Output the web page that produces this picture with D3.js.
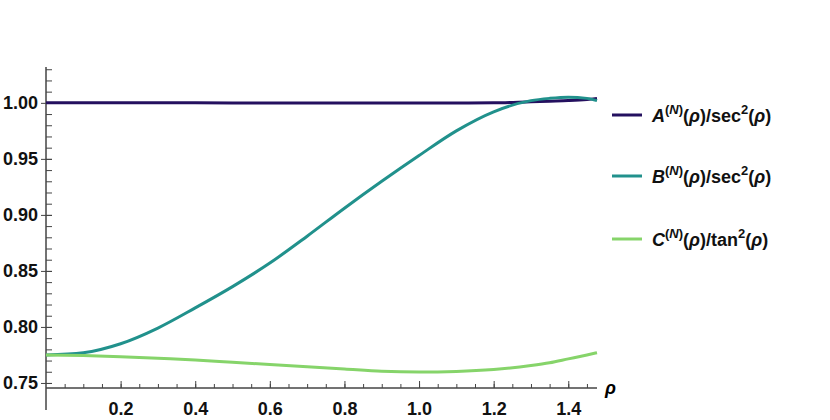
<!DOCTYPE html><html><head><script src="https://cdn.jsdelivr.net/npm/d3@7"></script>
<style>body{margin:0;background:#fff}text{font-family:"Liberation Sans",Arial,sans-serif;font-weight:bold}</style></head><body>
<svg id="c" width="830" height="420"></svg>
<script>
const rho=[0,0.1,0.2,0.3,0.4,0.5,0.6,0.7,0.8,0.9,1.0,1.1,1.2,1.3,1.35,1.4,1.45,1.477];
const A=[1.0,1.0,1.0,1.0,1.0,0.9999,0.9998,0.9998,0.9998,0.9998,0.9998,0.9999,1.0,1.001,1.0015,1.002,1.003,1.004];
const B=[0.775,0.777,0.785,0.799,0.817,0.836,0.857,0.881,0.906,0.930,0.953,0.975,0.992,1.002,1.004,1.005,1.004,1.002];
const C=[0.775,0.7745,0.7735,0.772,0.7705,0.7685,0.7665,0.7645,0.7625,0.7605,0.7598,0.7603,0.762,0.7655,0.768,0.7715,0.775,0.777];
const yTicks=[0.75,0.80,0.85,0.90,0.95,1.00];
const xTicks=[0.2,0.4,0.6,0.8,1.0,1.2,1.4];
const series=[{name:"A",den:"sec",v:A,c:"#24105f"},{name:"B",den:"sec",v:B,c:"#21918c"},{name:"C",den:"tan",v:C,c:"#86d46a"}];
const svg=d3.select("#c");
const x=d3.scaleLinear().domain([0,1.477]).range([46,597]);
const y=d3.scaleLinear().domain([0.7455,1.032]).range([388,67]);
const ya=svg.append("g").attr("transform","translate(46,0)").call(d3.axisLeft(y).tickValues(d3.range(0.75,1.031,0.01)).tickSize(6).tickFormat(d=>""));
const ya2=svg.append("g").attr("transform","translate(46,0)").call(d3.axisLeft(y).tickValues(yTicks).tickSize(11).tickFormat(d3.format(".2f")));
[ya,ya2].forEach(g=>{g.select(".domain").attr("d","M0,67V410").attr("stroke","#444");g.selectAll("line").attr("stroke","#444").attr("transform","translate(6,0)");});
ya.selectAll("line").attr("x2",-6);ya2.selectAll("line").attr("x2",-11);
ya2.selectAll("text").attr("x",-8).attr("font-size",18).attr("fill","#111");
const xa=svg.append("g").attr("transform","translate(0,388)").call(d3.axisTop(x).tickValues(d3.range(0.05,1.48,0.05)).tickSize(4).tickFormat(""));
const xa2=svg.append("g").attr("transform","translate(0,388)").call(d3.axisTop(x).tickValues(xTicks).tickSize(7).tickFormat(d3.format(".1f")));
[xa,xa2].forEach(g=>{g.select(".domain").attr("d","M46,0H597").attr("stroke","#444");g.selectAll("line").attr("stroke","#444");});
xa2.selectAll("text").attr("y",27).attr("font-size",18).attr("fill","#111");
svg.append("text").attr("x",605).attr("y",394).attr("font-size",18).attr("font-style","italic").text("ρ");
const line=v=>d3.line().curve(d3.curveMonotoneX).x((d,i)=>x(rho[i])).y(d=>y(d))(v);
series.forEach((s,i)=>{
 svg.append("path").attr("d",line(s.v)).attr("fill","none").attr("stroke",s.c).attr("stroke-width",3);
 const ly=[115,176,239][i];
 svg.append("line").attr("x1",612).attr("x2",642).attr("y1",ly).attr("y2",ly).attr("stroke",s.c).attr("stroke-width",3);
 const t=svg.append("text").attr("x",652).attr("y",ly+7).attr("font-size",18).attr("fill","#111");
 t.append("tspan").attr("font-style","italic").text(s.name);
 t.append("tspan").attr("dy",-8).attr("font-size",13).text("(");
 t.append("tspan").attr("font-size",13).attr("font-style","italic").text("N");
 t.append("tspan").attr("font-size",13).text(")");
 t.append("tspan").attr("dy",8).text("(");
 t.append("tspan").attr("font-style","italic").text("ρ");
 t.append("tspan").text(")/"+s.den);
 t.append("tspan").attr("dy",-8).attr("font-size",13).text("2");
 t.append("tspan").attr("dy",8).text("(");
 t.append("tspan").attr("font-style","italic").text("ρ");
 t.append("tspan").text(")");
});
</script></body></html>
